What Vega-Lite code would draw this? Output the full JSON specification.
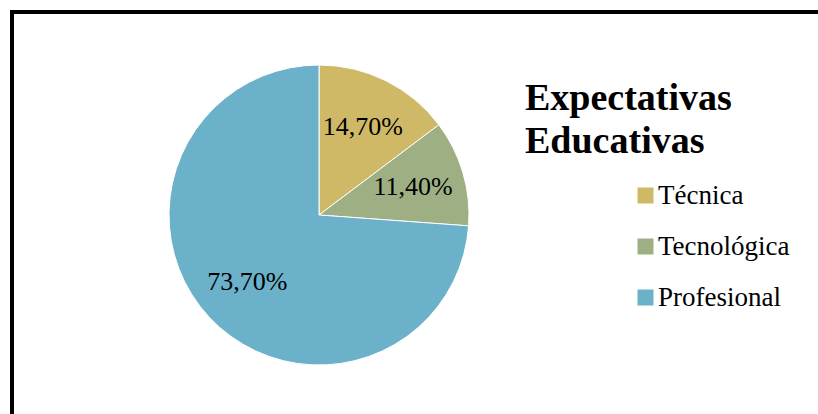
{
  "$schema": "https://vega.github.io/schema/vega-lite/v6.json",
  "padding": {"left": 9, "top": 9, "right": 0, "bottom": 0},
  "background": "white",
  "spacing": 0,
  "bounds": "flush",
  "config": {"view": {"stroke": null}, "font": "Liberation Serif"},
  "datasets": {
    "expectativas": [
      {"categoria": "Técnica", "valor": 14.7, "orden": 1, "etiqueta": "14,70%"},
      {"categoria": "Tecnológica", "valor": 11.4, "orden": 2, "etiqueta": "11,40%"},
      {"categoria": "Profesional", "valor": 73.7, "orden": 3, "etiqueta": "73,70%"}
    ],
    "vacio": []
  },
  "hconcat": [
    {
      "width": 614,
      "height": 406,
      "view": {"stroke": "black", "strokeWidth": 4, "strokeDash": [614, 1020, 406], "strokeCap": "square"},
      "data": {"name": "expectativas"},
      "encoding": {
        "theta": {"field": "valor", "type": "quantitative", "stack": true},
        "order": {"field": "orden", "type": "quantitative"}
      },
      "layer": [
        {
          "mark": {"type": "arc", "outerRadius": 150, "stroke": "white", "strokeWidth": 1},
          "encoding": {
            "color": {
              "field": "categoria",
              "type": "nominal",
              "sort": ["Técnica", "Tecnológica", "Profesional"],
              "scale": {"domain": ["Técnica", "Tecnológica", "Profesional"], "range": ["#CFB966", "#9EB083", "#6AB1C9"]},
              "legend": {
                "title": ["Expectativas", "Educativas"],
                "orient": "none",
                "legendX": 513,
                "legendY": 68,
                "padding": 0,
                "titleFont": "Liberation Serif",
                "titleFontSize": 38,
                "titleFontWeight": "bold",
                "titleColor": "black",
                "titleLineHeight": 43,
                "titleBaseline": "top",
                "titleLimit": 400,
                "titlePadding": 21,
                "symbolType": "square",
                "symbolSize": 256,
                "symbolStrokeWidth": 0,
                "symbolOpacity": 1,
                "symbolOffset": 107,
                "labelOffset": -1,
                "labelFont": "Liberation Serif",
                "labelFontSize": 27,
                "labelColor": "black",
                "labelLimit": 300,
                "rowPadding": 23
              }
            }
          }
        },
        {
          "mark": {"type": "text", "radius": 98, "font": "Liberation Serif", "fontSize": 26, "color": "black"},
          "encoding": {"text": {"field": "etiqueta"}}
        }
      ]
    },
    {
      "width": 193,
      "height": 406,
      "view": {"stroke": "black", "strokeWidth": 4, "strokeDash": [191, 2000], "strokeCap": "square"},
      "data": {"name": "vacio"},
      "mark": "point",
      "encoding": {}
    }
  ]
}
